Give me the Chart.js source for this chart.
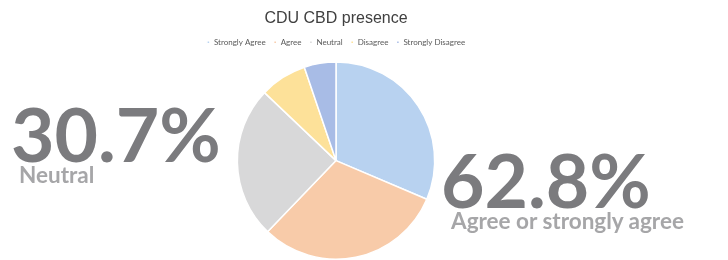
<!DOCTYPE html>
<html>
<head>
<meta charset="utf-8">
<script src="https://cdn.jsdelivr.net/npm/chart.js@4"></script>
<style>
  html, body { margin: 0; padding: 0; background: #fff; }
  #wrap { position: relative; width: 728px; height: 260px; overflow: hidden; }
  canvas { position: absolute; left: 0; top: 0; }
  .big { position: absolute; font-family: Lato, sans-serif; font-weight: bold; white-space: nowrap; line-height: 1; }
  .num { font-size: 75px; color: #7b7b7e; }
  .sub { font-size: 22.5px; color: #a6a6a8; }
</style>
</head>
<body>
<div id="wrap">
  <canvas id="pieChart" width="728" height="260"></canvas>
  <div class="big num" id="neutralNum" style="left:11px; top:96px;">30.7%</div>
  <div class="big sub" id="neutralLbl" style="left:19px; top:164px;">Neutral</div>
  <div class="big num" id="agreeNum" style="left:441px; top:142px;">62.8%</div>
  <div class="big sub" id="agreeLbl" style="left:451px; top:210px;">Agree or strongly agree</div>
</div>
<script>
// data (persen per irisan)
const kategori = ["Strongly Agree", "Agree", "Neutral", "Disagree", "Strongly Disagree"];
const nilai = [31.4, 30.8, 24.9, 7.7, 5.2];
const judul = "CDU CBD presence";

const warna = ["#b8d2f0", "#f8cba9", "#d8d8d9", "#fde199", "#a8bce6"];

// tambah jarak di bawah legend
const jarakLegend = {
  id: "jarakLegend",
  beforeInit(chart) {
    const fitAsli = chart.legend.fit;
    chart.legend.fit = function () {
      fitAsli.bind(chart.legend)();
      this.height += 5;
    };
  }
};

const ctx = document.getElementById("pieChart").getContext("2d");
new Chart(ctx, {
  type: "pie",
  data: {
    labels: kategori,
    datasets: [{
      data: nilai,
      backgroundColor: warna,
      borderColor: "#ffffff",
      borderWidth: 1.5
    }]
  },
  options: {
    responsive: false,
    animation: false,
    layout: { padding: { right: 56 } },
    plugins: {
      tooltip: { enabled: false },
      title: {
        display: true,
        text: judul,
        color: "#404040",
        font: { family: "'Liberation Sans', Arial", size: 16, weight: "normal" },
        padding: { top: 9, bottom: 2 }
      },
      legend: {
        display: true,
        position: "top",
        labels: {
          color: "#595959",
          font: { family: "Lato", size: 8 },
          usePointStyle: true,
          pointStyle: "rect",
          boxWidth: 3,
          boxHeight: 3,
          padding: 8
        }
      }
    }
  },
  plugins: [jarakLegend]
});
</script>
</body>
</html>
